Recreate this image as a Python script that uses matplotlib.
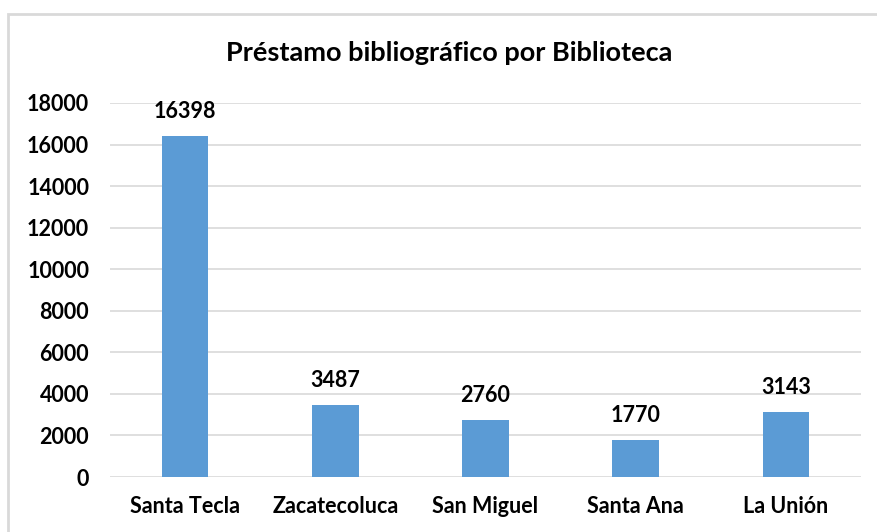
import matplotlib.pyplot as plt
from matplotlib.patches import Rectangle

bibliotecas = ["Santa Tecla", "Zacatecoluca", "San Miguel", "Santa Ana", "La Unión"]
prestamos = [16398, 3487, 2760, 1770, 3143]
yticks = [0, 2000, 4000, 6000, 8000, 10000, 12000, 14000, 16000, 18000]

plt.rcParams["font.family"] = ["Lato", "DejaVu Sans"]

fig = plt.figure(figsize=(8.77, 5.32), dpi=100)
fig.patches.append(
    Rectangle((8 / 877, -0.05), 1.1, 1 - 14 / 532 + 0.05, transform=fig.transFigure,
              facecolor="white", edgecolor="#d9d9d9", linewidth=2, zorder=-1)
)
ax = fig.add_axes([110 / 877, 1 - 477 / 532, 751 / 877, 374 / 532])

x = range(len(bibliotecas))
bars = ax.bar(x, prestamos, width=0.31, color="#5b9bd5", zorder=3)
for bar, v in zip(bars, prestamos):
    ax.annotate(f"{v}", (bar.get_x() + bar.get_width() / 2, v), xytext=(0, 10),
                textcoords="offset points", ha="center", va="bottom",
                fontsize=15.5, fontweight="bold", color="#000000")

ax.set_xlim(-0.5, len(bibliotecas) - 0.5)
ax.set_ylim(0, 18000)
ax.set_yticks(yticks)
ax.set_yticklabels([str(t) for t in yticks], fontsize=15.5, fontweight="bold")
ax.set_xticks(list(x))
ax.set_xticklabels(bibliotecas, fontsize=15.5, fontweight="bold")
ax.tick_params(axis="both", length=0)
ax.tick_params(axis="y", pad=15)
ax.tick_params(axis="x", pad=14)
ax.grid(axis="y", color="#d9d9d9", linewidth=1.2, zorder=0)
for s in ax.spines.values():
    s.set_visible(False)

fig.text(0.512, 1 - 53 / 532, "Préstamo bibliográfico por Biblioteca",
         ha="center", va="center", fontsize=19.5, fontweight="bold")

fig.savefig("out.png", dpi=100)
